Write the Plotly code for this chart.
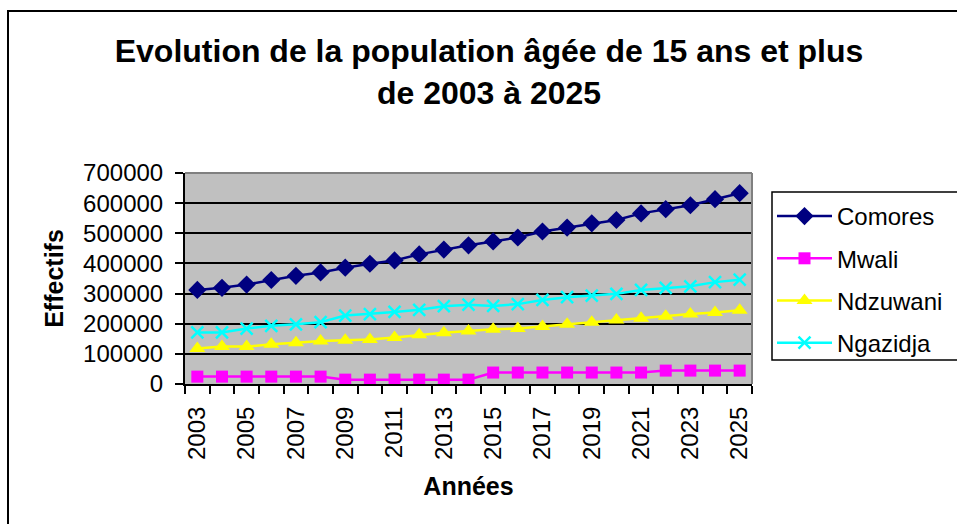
import plotly.graph_objects as go

years = [str(y) for y in range(2003, 2026)]
tick_labels = [y if i % 2 == 0 else "" for i, y in enumerate(years)]

comores = [312000, 319000, 330000, 345000, 359000, 370000, 386000, 399000, 410000, 430000, 446000, 460000,
           473000, 486000, 506000, 519000, 533000, 544000, 566000, 580000, 593000, 613000, 633000]
mwali = [24500, 24500, 24500, 24500, 24500, 24500, 14500, 14500, 14500, 14500, 14500, 14500,
         38000, 38000, 38000, 38000, 38000, 38000, 38000, 44500, 44500, 44500, 44500]
ndzuwani = [118000, 124000, 124000, 132000, 137000, 143000, 145000, 148000, 154000, 163000, 170000, 176000,
            182000, 184000, 191000, 198000, 205000, 212000, 218000, 225000, 232000, 237000, 245000]
ngazidja = [171000, 171000, 184000, 193000, 198000, 205000, 227000, 232000, 239000, 246000, 258000, 263000,
            259000, 265000, 279000, 288000, 293000, 299000, 312000, 319000, 324000, 338000, 346000]

FONT = "Liberation Sans, Arial, sans-serif"

series = [
    ("Comores", comores, "#000080", "diamond", 14, None),
    ("Mwali", mwali, "#FF00FF", "square", 12, None),
    ("Ndzuwani", ndzuwani, "#FFFF00", "triangle-up", 14, None),
    ("Ngazidja", ngazidja, "#00FFFF", "x-thin-open", 12, 2.5),
]

fig = go.Figure()
for name, vals, col, sym, size, lw in series:
    marker = dict(symbol=sym, size=size, color=col)
    if lw:
        marker["line"] = dict(color=col, width=lw)
    fig.add_trace(go.Scatter(
        x=years, y=vals, name=name, mode="lines+markers",
        line=dict(color=col, width=2.5), marker=marker,
        legendgroup=name,
    ))

fig.update_layout(
    width=957, height=524,
    margin=dict(l=185, r=205, t=173, b=140, autoexpand=False),
    paper_bgcolor="white",
    plot_bgcolor="#C0C0C0",
    font=dict(family=FONT, color="black", size=23),
    title=dict(
        text="<b>Evolution de la population âgée de 15 ans et plus<br>de 2003 à 2025</b>",
        x=489 / 957, xanchor="center", y=1 - 62 / 524, yanchor="middle",
        font=dict(family=FONT, size=32, color="black"),
    ),
    showlegend=True,
    legend=dict(
        x=(772 - 185) / 567, xanchor="left",
        y=(384 - 194) / 211, yanchor="top",
        borderwidth=0, bgcolor="rgba(255,255,255,0)",
        font=dict(family=FONT, size=24, color="black"),
        traceorder="grouped", tracegroupgap=8, itemwidth=55,
    ),
    xaxis=dict(
        type="category", range=[-0.5, 22.5],
        tickmode="array", tickvals=years, ticktext=tick_labels,
        tickson="boundaries", ticks="outside", ticklen=8, tickwidth=2, tickcolor="black",
        tickangle=-90, showgrid=False, ticklabelstandoff=11,
        showline=True, linecolor="black", linewidth=2, mirror=False,
        title=dict(text="<b>Années</b>", font=dict(family=FONT, size=25), standoff=19),
        tickfont=dict(size=24),
    ),
    yaxis=dict(
        range=[0, 700000], dtick=100000, tick0=0, tickformat="d",
        ticks="outside", ticklen=8, tickwidth=2, tickcolor="black",
        ticklabelstandoff=7,
        showgrid=True, gridcolor="black", gridwidth=2,
        showline=True, linecolor="black", linewidth=2,
        zeroline=False,
        title=dict(text="<b>Effectifs</b>", font=dict(family=FONT, size=25), standoff=12),
        tickfont=dict(size=24),
    ),
    shapes=[
        dict(type="line", xref="paper", yref="paper", x0=0, x1=1, y0=1, y1=1,
             line=dict(color="#808080", width=2), layer="above"),
        dict(type="line", xref="paper", yref="paper", x0=1, x1=1, y0=0, y1=1,
             line=dict(color="#808080", width=2), layer="above"),
        dict(type="rect", xref="paper", yref="paper",
             x0=(772 - 185) / 567, x1=2.0, y0=(384 - 360) / 211, y1=(384 - 192) / 211,
             line=dict(color="black", width=1.5), fillcolor="white", layer="below"),
        dict(type="rect", xref="paper", yref="paper",
             x0=(8 - 185) / 567, x1=2.0, y0=-2.0, y1=(384 - 11) / 211,
             line=dict(color="black", width=2), fillcolor="rgba(0,0,0,0)"),
    ],
)

fig.write_html("out.html", config={"displayModeBar": False},
               post_script="document.body.style.margin='0';")
